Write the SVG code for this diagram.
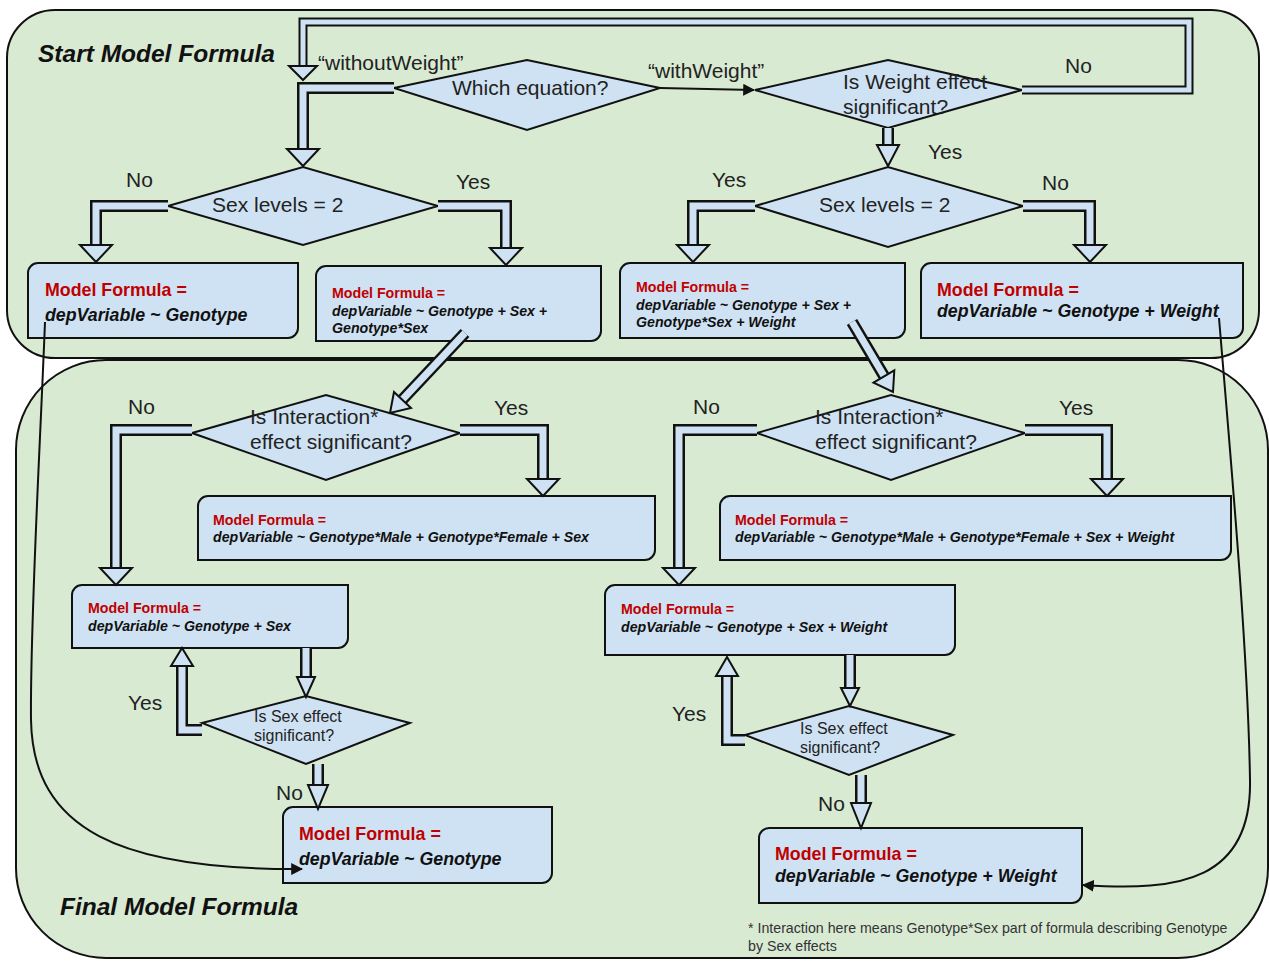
<svg xmlns="http://www.w3.org/2000/svg" xmlns:xlink="http://www.w3.org/1999/xlink" width="1269" height="961" viewBox="0 0 1269 961">
<style>
.cont{fill:#d9ead3;stroke:#111;stroke-width:2}
.box{fill:#cfe2f3;stroke:#111;stroke-width:2}
.dia{fill:#cfe2f3;stroke:#111;stroke-width:2;stroke-linejoin:miter}
.t{font-family:"Liberation Sans",Arial,sans-serif;fill:#222}
.dt{font-size:21px}
.st{font-size:16px}
.lb{font-size:21px}
.ttl{font-size:24.5px;font-weight:bold;font-style:italic;fill:#111}
.r16{font-size:17.8px;font-weight:bold;fill:#c00000}
.b16{font-size:17.8px;font-weight:bold;font-style:italic;fill:#111}
.r13{font-size:14.2px;font-weight:bold;fill:#c00000}
.b13{font-size:14.2px;font-weight:bold;font-style:italic;fill:#111}
.fn{font-size:14.2px;fill:#333}
.ol{fill:none;stroke:#111;stroke-width:12;stroke-linejoin:miter}
.in{fill:none;stroke:#cfe2f3;stroke-width:7;stroke-linejoin:miter}
.ol2{fill:none;stroke:#111;stroke-width:9;stroke-linejoin:miter}
.in2{fill:none;stroke:#cfe2f3;stroke-width:5;stroke-linejoin:miter}
.hd{fill:#cfe2f3;stroke:#111;stroke-width:2;stroke-linejoin:miter}
.thin{fill:none;stroke:#111;stroke-width:2}
</style>
<defs>
<marker id="ah2" viewBox="0 0 10 10" refX="9" refY="5" markerWidth="12" markerHeight="12" markerUnits="userSpaceOnUse" orient="auto">
<path d="M0 0 L10 5 L0 10 Z" fill="#111"/>
</marker>
<path id="cA" d="M394 88 H303 V150"/>
<path id="cB" d="M1022 90 H1189 V22 H303 V67"/>
<path id="cD" d="M888 128 V146"/>
<path id="cE" d="M168 206 H96 V246"/>
<path id="cF" d="M438 206 H506 V249"/>
<path id="cG" d="M755 206 H693 V246"/>
<path id="cH" d="M1023 206 H1090 V246"/>
<path id="cI" d="M465 333 L402 400"/>
<path id="cJ" d="M852 322 L884 376"/>
<path id="cK" d="M192 430 H116 V569"/>
<path id="cL" d="M460 430 H543 V480"/>
<path id="cM" d="M757 430 H679 V569"/>
<path id="cN" d="M1025 430 H1107 V480"/>
<path id="cO" d="M306 648 V678"/>
<path id="cP" d="M202 730 H182 V665"/>
<path id="cQ" d="M318 764 V786"/>
<path id="cR" d="M850 655 V689"/>
<path id="cS" d="M745 740 H727 V675"/>
<path id="cT" d="M861 775 V804"/>
</defs>

<g id="containers">
<rect id="final-container" class="cont" x="16" y="360" width="1252" height="598" rx="90" ry="90"/>
<rect id="start-container" class="cont" x="7" y="10" width="1252" height="348" rx="48" ry="48"/>
<text class="t ttl" x="38" y="62">Start Model Formula</text>
<text class="t ttl" x="60" y="915">Final Model Formula</text>
</g>

<g id="n-which">
<polygon class="dia" points="394,88 527,60 660,88 527,130"/>
<text class="t dt" x="452" y="95">Which equation?</text>
</g>
<g id="n-weight">
<polygon class="dia" points="755,90 888,60 1022,90 888,128"/>
<text class="t dt" x="843" y="89">Is Weight effect</text>
<text class="t dt" x="843" y="114">significant?</text>
</g>
<g id="n-sexlev-l">
<polygon class="dia" points="168,206 303,167 438,206 303,245"/>
<text class="t dt" x="212" y="212">Sex levels = 2</text>
</g>
<g id="n-sexlev-r">
<polygon class="dia" points="755,206 888,167 1023,206 888,247"/>
<text class="t dt" x="819" y="212">Sex levels = 2</text>
</g>
<g id="b1">
<path class="box" d="M38 263 H298 V328 A10 10 0 0 1 288 338 H28 V273 A10 10 0 0 1 38 263 Z"/>
<text class="t r16" x="45" y="296">Model Formula =</text>
<text class="t b16" x="45" y="321">depVariable ~ Genotype</text>
</g>
<g id="b2">
<path class="box" d="M326 266 H601 V331 A10 10 0 0 1 591 341 H316 V276 A10 10 0 0 1 326 266 Z"/>
<text class="t r13" x="332" y="298">Model Formula =</text>
<text class="t b13" x="332" y="316">depVariable ~ Genotype + Sex +</text>
<text class="t b13" x="332" y="333">Genotype*Sex</text>
</g>
<g id="b3">
<path class="box" d="M630 263 H905 V328 A10 10 0 0 1 895 338 H620 V273 A10 10 0 0 1 630 263 Z"/>
<text class="t r13" x="636" y="292">Model Formula =</text>
<text class="t b13" x="636" y="310">depVariable ~ Genotype + Sex +</text>
<text class="t b13" x="636" y="327">Genotype*Sex + Weight</text>
</g>
<g id="b4">
<path class="box" d="M931 263 H1243 V328 A10 10 0 0 1 1233 338 H921 V273 A10 10 0 0 1 931 263 Z"/>
<text class="t r16" x="937" y="296">Model Formula =</text>
<text class="t b16" x="937" y="317">depVariable ~ Genotype + Weight</text>
</g>
<g id="n-inter-l">
<polygon class="dia" points="192,433 326,395 460,433 326,480"/>
<text class="t dt" x="250" y="424">Is Interaction*</text>
<text class="t dt" x="250" y="449">effect significant?</text>
</g>
<g id="n-inter-r">
<polygon class="dia" points="757,433 891,395 1025,433 891,480"/>
<text class="t dt" x="815" y="424">Is Interaction*</text>
<text class="t dt" x="815" y="449">effect significant?</text>
</g>
<g id="b5">
<path class="box" d="M208 496 H655 V550 A10 10 0 0 1 645 560 H198 V506 A10 10 0 0 1 208 496 Z"/>
<text class="t r13" x="213" y="525">Model Formula =</text>
<text class="t b13" x="213" y="542">depVariable ~ Genotype*Male + Genotype*Female + Sex</text>
</g>
<g id="b6">
<path class="box" d="M730 496 H1231 V550 A10 10 0 0 1 1221 560 H720 V506 A10 10 0 0 1 730 496 Z"/>
<text class="t r13" x="735" y="525">Model Formula =</text>
<text class="t b13" x="735" y="542">depVariable ~ Genotype*Male + Genotype*Female + Sex + Weight</text>
</g>
<g id="b7">
<path class="box" d="M82 585 H348 V638 A10 10 0 0 1 338 648 H72 V595 A10 10 0 0 1 82 585 Z"/>
<text class="t r13" x="88" y="613">Model Formula =</text>
<text class="t b13" x="88" y="631">depVariable ~ Genotype + Sex</text>
</g>
<g id="b8">
<path class="box" d="M615 585 H955 V645 A10 10 0 0 1 945 655 H605 V595 A10 10 0 0 1 615 585 Z"/>
<text class="t r13" x="621" y="614">Model Formula =</text>
<text class="t b13" x="621" y="632">depVariable ~ Genotype + Sex + Weight</text>
</g>
<g id="n-sexeff-l">
<polygon class="dia" points="202,723 306,696 410,723 306,764"/>
<text class="t st" x="254" y="722">Is Sex effect</text>
<text class="t st" x="254" y="741">significant?</text>
</g>
<g id="n-sexeff-r">
<polygon class="dia" points="745,735 849,706 953,735 849,775"/>
<text class="t st" x="800" y="734">Is Sex effect</text>
<text class="t st" x="800" y="753">significant?</text>
</g>
<g id="b9">
<path class="box" d="M293 807 H552 V873 A10 10 0 0 1 542 883 H283 V817 A10 10 0 0 1 293 807 Z"/>
<text class="t r16" x="299" y="840">Model Formula =</text>
<text class="t b16" x="299" y="865">depVariable ~ Genotype</text>
</g>
<g id="b10">
<path class="box" d="M769 828 H1082 V893 A10 10 0 0 1 1072 903 H759 V838 A10 10 0 0 1 769 828 Z"/>
<text class="t r16" x="775" y="860">Model Formula =</text>
<text class="t b16" x="775" y="882">depVariable ~ Genotype + Weight</text>
</g>

<g id="connectors">
<use xlink:href="#cB" class="ol2"/><use xlink:href="#cB" class="in2"/>
<polygon class="hd" points="289,66 317,66 303,80"/>
<use xlink:href="#cA" class="ol"/><use xlink:href="#cA" class="in"/>
<polygon class="hd" points="287,149 319,149 303,166"/>
<line class="thin" x1="660" y1="88" x2="754" y2="90" marker-end="url(#ah2)"/>
<use xlink:href="#cD" class="ol"/><use xlink:href="#cD" class="in"/>
<polygon class="hd" points="877,145 899,145 888,166"/>
<use xlink:href="#cE" class="ol"/><use xlink:href="#cE" class="in"/>
<polygon class="hd" points="80,245 112,245 96,262"/>
<use xlink:href="#cF" class="ol"/><use xlink:href="#cF" class="in"/>
<polygon class="hd" points="490,248 522,248 506,265"/>
<use xlink:href="#cG" class="ol"/><use xlink:href="#cG" class="in"/>
<polygon class="hd" points="677,245 709,245 693,262"/>
<use xlink:href="#cH" class="ol"/><use xlink:href="#cH" class="in"/>
<polygon class="hd" points="1074,245 1106,245 1090,262"/>
<use xlink:href="#cI" class="ol"/><use xlink:href="#cI" class="in"/>
<polygon class="hd" points="411,408 394,392 390,413"/>
<use xlink:href="#cJ" class="ol"/><use xlink:href="#cJ" class="in"/>
<polygon class="hd" points="873.5,382.6 894.3,370.4 893,392"/>
<use xlink:href="#cK" class="ol"/><use xlink:href="#cK" class="in"/>
<polygon class="hd" points="100,568 132,568 116,585"/>
<use xlink:href="#cL" class="ol"/><use xlink:href="#cL" class="in"/>
<polygon class="hd" points="527,479 559,479 543,496"/>
<use xlink:href="#cM" class="ol"/><use xlink:href="#cM" class="in"/>
<polygon class="hd" points="663,568 695,568 679,585"/>
<use xlink:href="#cN" class="ol"/><use xlink:href="#cN" class="in"/>
<polygon class="hd" points="1091,479 1123,479 1107,496"/>
<use xlink:href="#cO" class="ol"/><use xlink:href="#cO" class="in"/>
<polygon class="hd" points="297,677 315,677 306,697"/>
<use xlink:href="#cP" class="ol"/><use xlink:href="#cP" class="in"/>
<polygon class="hd" points="171,666 193,666 182,648"/>
<use xlink:href="#cQ" class="ol"/><use xlink:href="#cQ" class="in"/>
<polygon class="hd" points="308,785 328,785 318,809"/>
<use xlink:href="#cR" class="ol"/><use xlink:href="#cR" class="in"/>
<polygon class="hd" points="841,688 859,688 850,706"/>
<use xlink:href="#cS" class="ol"/><use xlink:href="#cS" class="in"/>
<polygon class="hd" points="716,676 738,676 727,657"/>
<use xlink:href="#cT" class="ol"/><use xlink:href="#cT" class="in"/>
<polygon class="hd" points="851,803 871,803 861,828"/>
<path class="thin" d="M45 322 C40 450, 30 620, 31 720 C33 830, 120 870, 302 869" marker-end="url(#ah2)"/>
<path class="thin" d="M1219 318 C1230 450, 1248 650, 1250 780 C1252 880, 1180 892, 1083 885" marker-end="url(#ah2)"/>
</g>

<g id="labels">
<text class="t lb" x="318" y="70">“withoutWeight”</text>
<text class="t lb" x="648" y="78">“withWeight”</text>
<text class="t lb" x="1065" y="73">No</text>
<text class="t lb" x="928" y="159">Yes</text>
<text class="t lb" x="126" y="187">No</text>
<text class="t lb" x="456" y="189">Yes</text>
<text class="t lb" x="712" y="187">Yes</text>
<text class="t lb" x="1042" y="190">No</text>
<text class="t lb" x="128" y="414">No</text>
<text class="t lb" x="494" y="415">Yes</text>
<text class="t lb" x="693" y="414">No</text>
<text class="t lb" x="1059" y="415">Yes</text>
<text class="t lb" x="128" y="710">Yes</text>
<text class="t lb" x="276" y="800">No</text>
<text class="t lb" x="672" y="721">Yes</text>
<text class="t lb" x="818" y="811">No</text>
<text class="t fn" x="748" y="933">* Interaction here means Genotype*Sex part of formula describing Genotype</text>
<text class="t fn" x="748" y="951">by Sex effects</text>
</g>
</svg>
